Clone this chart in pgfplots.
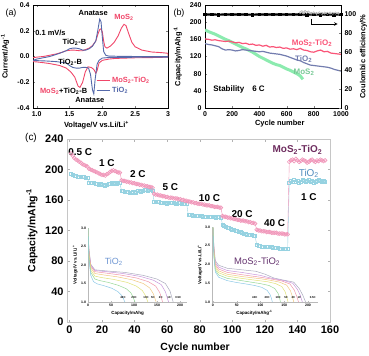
\documentclass[border=0pt]{standalone}
\usepackage{pgfplots}
\pgfplotsset{compat=1.18}
\usepackage{fontspec}
\setmainfont{Liberation Sans}
\definecolor{cvred}{RGB}{240,70,105}
\definecolor{cvblue}{RGB}{85,105,170}
\definecolor{bpink}{RGB}{250,85,120}
\definecolor{bblue}{RGB}{115,125,175}
\definecolor{bgreen}{RGB}{140,235,175}
\definecolor{cpink}{RGB}{240,150,185}
\definecolor{ccyan}{RGB}{150,210,225}
\definecolor{cpurple}{RGB}{110,45,95}
\definecolor{ctio}{RGB}{80,140,190}
\definecolor{iblue}{RGB}{110,150,210}
\definecolor{ipurple}{RGB}{100,50,110}
\definecolor{q1}{RGB}{170,170,190}
\definecolor{q2}{RGB}{200,150,220}
\definecolor{q3}{RGB}{240,150,170}
\definecolor{q4}{RGB}{240,200,130}
\definecolor{q5}{RGB}{225,225,120}
\definecolor{q6}{RGB}{150,215,150}
\definecolor{q7}{RGB}{140,200,230}
\newcommand{\sub}[1]{\textsubscript{#1}}
\pgfplotsset{
  inset/.style={
    scale only axis, ymin=1, ymax=3,
    axis x line*=bottom, axis y line*=left,
    axis line style={gray!55}, tick style={gray!55},
    ytick={1.0,1.5,2.0,2.5,3.0}, yticklabels={1.0,1.5,2.0,2.5,3.0},
    xtick={0,50,100,150,200},
    /pgf/number format/assume math mode=true,
    tick label style={font=\fontsize{3.5}{4}\selectfont\bfseries},
    major tick length=1.2bp,
    xticklabel style={yshift=1.5bp}, yticklabel style={xshift=1.5bp},
    label style={font=\fontsize{4.5}{5}\selectfont\bfseries},
    every axis plot/.append style={line width=0.5pt},
  }
}
\begin{document}
\begin{tikzpicture}
\useasboundingbox (0bp,0bp) rectangle (369bp,-356bp);

% ---------------- (a)
\begin{axis}[
  at={(33bp,-5bp)}, anchor=north west, scale only axis, width=135bp, height=103bp,
  xmin=0.944, xmax=3.0, ymin=-0.4, ymax=0.4,
  xtick={1.0,1.5,2.0,2.5,3.0}, xticklabels={1.0,1.5,2.0,2.5,3},
  ytick={-0.4,-0.2,0,0.2,0.4}, yticklabels={-0.4,-0.2,0.0,0.2,0.4},
  tick label style={font=\fontsize{7}{8}\selectfont\bfseries},
  label style={font=\fontsize{7.5}{9}\selectfont\bfseries},
  xlabel={Voltage/V vs.Li/Li\textsuperscript{+}},
  ylabel={Current/Ag\textsuperscript{-1}},
  xlabel style={at={(axis description cs:0.47,-0.165)}, anchor=center},
  ylabel style={at={(axis description cs:-0.207,0.5)}, anchor=center},
  major tick length=2bp,
  legend style={draw=none, fill=none, at={(axis description cs:0.46,0.33)}, anchor=north west,
    font=\fontsize{7.5}{8}\selectfont\bfseries, row sep=-1.5bp, inner sep=1bp},
  legend cell align=left,
  legend image code/.code={\draw[#1] (0bp,0bp)--(13bp,0bp);},
]
\addplot[cvred, line width=0.9pt] coordinates {
(0.944,-0.01)(1.0,-0.005)(1.1,0.0)(1.2,0.01)(1.3,0.02)(1.4,0.035)(1.45,0.045)(1.5,0.048)(1.55,0.05)(1.6,0.048)(1.65,0.045)(1.7,0.045)(1.75,0.055)(1.8,0.065)(1.85,0.085)(1.9,0.12)(1.93,0.17)(1.96,0.21)(1.98,0.215)(2.0,0.19)(2.02,0.12)(2.04,0.075)(2.07,0.065)(2.12,0.08)(2.18,0.11)(2.24,0.16)(2.29,0.22)(2.33,0.25)(2.36,0.24)(2.4,0.18)(2.45,0.11)(2.5,0.075)(2.6,0.05)(2.75,0.035)(2.9,0.03)(3.0,0.025)
(3.0,-0.005)(2.8,-0.008)(2.5,-0.01)(2.2,-0.015)(2.1,-0.02)(2.0,-0.03)(1.95,-0.05)(1.92,-0.11)(1.9,-0.13)(1.87,-0.1)(1.83,-0.085)(1.78,-0.08)(1.74,-0.12)(1.7,-0.2)(1.66,-0.24)(1.63,-0.23)(1.58,-0.16)(1.52,-0.12)(1.45,-0.09)(1.35,-0.07)(1.2,-0.055)(1.1,-0.048)(1.0,-0.042)(0.944,-0.04)};
\addlegendentry{\textcolor{cvred}{MoS\sub{2}-TiO\sub{2}}}
\addplot[cvblue, line width=0.9pt] coordinates {
(0.944,-0.03)(1.0,-0.02)(1.2,0.0)(1.35,0.025)(1.45,0.045)(1.5,0.06)(1.55,0.065)(1.6,0.065)(1.65,0.06)(1.7,0.05)(1.75,0.05)(1.8,0.06)(1.85,0.08)(1.9,0.12)(1.93,0.2)(1.96,0.29)(1.98,0.27)(2.0,0.15)(2.02,0.04)(2.05,0.01)(2.1,0.003)(2.5,0.0)(3.0,0.0)
(3.0,-0.005)(2.5,-0.006)(2.1,-0.008)(2.0,-0.012)(1.95,-0.03)(1.92,-0.06)(1.89,-0.18)(1.87,-0.29)(1.85,-0.26)(1.82,-0.14)(1.79,-0.09)(1.75,-0.085)(1.7,-0.085)(1.65,-0.09)(1.6,-0.09)(1.55,-0.085)(1.5,-0.07)(1.45,-0.05)(1.3,-0.04)(1.15,-0.035)(1.0,-0.032)(0.944,-0.03)};
\addlegendentry{\textcolor{cvblue}{TiO\sub{2}}}
\begin{scope}[font=\fontsize{7.5}{8}\selectfont\bfseries]
\node at (axis cs:1.86,0.335) {Anatase};
\node[text=cvred] at (axis cs:2.33,0.305) {MoS\sub{2}};
\node at (axis cs:1.21,0.185) {0.1 mV/s};
\node at (axis cs:1.575,0.11) {TiO\sub{2}-B};
\node at (axis cs:1.51,-0.047) {TiO\sub{2}-B};
\node at (axis cs:1.41,-0.27) {\textcolor{cvred}{MoS\sub{2}}+TiO\sub{2}-B};
\node at (axis cs:1.81,-0.336) {Anatase};
\end{scope}
\end{axis}
\node[font=\fontsize{9}{10}\selectfont] at (11bp,-13bp) {(a)};
\node[font=\fontsize{9}{10}\selectfont] at (179bp,-13bp) {(b)};

% ---------------- (b) left
\begin{axis}[
  at={(205bp,-5bp)}, anchor=north west, scale only axis, width=136bp, height=103bp,
  xmin=0, xmax=1000, ymin=0, ymax=240,
  xtick={0,200,...,1000}, ytick={0,40,...,240}, ytick pos=left,
  /pgf/number format/assume math mode=true, /pgf/number format/1000 sep={},
  tick label style={font=\fontsize{7}{8}\selectfont\bfseries},
  label style={font=\fontsize{7.5}{9}\selectfont\bfseries},
  xlabel={Cycle number}, ylabel={Capacity/mAhg\textsuperscript{-1}},
  xlabel style={at={(axis description cs:0.55,-0.15)}, anchor=center},
  ylabel style={at={(axis description cs:-0.2,0.5)}, anchor=center},
  major tick length=2bp,
]
\addplot[bgreen, line width=3pt] coordinates {
(0,182)(25,178)(50,175)(75,172)(100,168)(125,164)(150,160)(175,157)(200,153)(225,149)(250,145)(275,141)(300,138)(325,134)(350,130)(375,125)(400,120)(425,116)(450,112)(475,108)(500,104)(525,101)(550,99)(575,95)(600,91)(625,88)(650,84)(675,80)(700,75)(720,67)};
\addplot[bpink, line width=1.2pt] coordinates {
(0,161)(25,160)(50,158)(75,159)(100,157)(125,156)(150,155)(175,156)(200,154)(225,152)(250,153)(275,150)(300,151)(325,148)(350,149)(375,146)(400,147)(425,144)(450,146)(475,142)(500,143)(525,141)(550,142)(575,139)(600,140)(625,137)(650,138)(675,136)(700,139)(725,135)(750,134)(775,131)(800,130)(825,133)(850,135)(875,131)(900,132)(925,128)(950,127)(975,126)(1000,125)};
\addplot[bblue, line width=1.2pt] coordinates {
(0,150)(25,148)(50,147)(75,145)(100,143)(125,138)(150,135)(175,136)(200,135)(225,133)(250,134)(275,136)(300,135)(325,134)(350,133)(375,132)(400,131)(425,132)(450,130)(475,128)(500,127)(525,126)(550,125)(575,123)(600,121)(625,118)(650,115)(675,112)(700,110)(725,106)(750,103)(775,100)(800,99)(825,98)(850,97)(875,96)(900,95)(925,93)(950,90)(975,88)(1000,86)};
\begin{scope}[font=\fontsize{8}{9}\selectfont\bfseries]
\node[text=bpink] at (axis cs:787,151) {MoS\sub{2}-TiO\sub{2}};
\node[text=bblue] at (axis cs:725,114) {TiO\sub{2}};
\node[text=bgreen!85!black] at (axis cs:728,84) {MoS\sub{2}};
\node at (axis cs:250,44) {Stability\quad 6 C};
\end{scope}
\end{axis}
% ---------------- (b) right
\begin{axis}[
  at={(205bp,-5bp)}, anchor=north west, scale only axis, width=136bp, height=103bp,
  xmin=0, xmax=1000, ymin=0, ymax=109.7,
  axis y line*=right, axis x line=none, ytick={0,20,...,100},
  /pgf/number format/assume math mode=true,
  tick label style={font=\fontsize{7}{8}\selectfont\bfseries},
  label style={font=\fontsize{7.5}{9}\selectfont\bfseries},
  ylabel={Coulombic efficiency/\%},
  ylabel style={at={(axis description cs:1.165,0.5)}, anchor=center},
  major tick length=2bp,
]
\addplot[black, line width=2.2pt, mark=square*, mark size=0.8pt] coordinates {
(0,99.5)(50,99.6)(100,99.4)(150,99.6)(200,99.5)(250,99.6)(300,99.5)(350,99.4)(400,99.6)(450,99.5)(500,99.6)(550,99.5)(600,99.5)(650,99.6)(700,99.5)(750,99.4)(800,99.5)(850,99.4)(900,99.5)(950,99.4)(1000,99.5)};
\addplot[only marks, gray!70, mark=o, mark size=1.2pt] coordinates {
(700,101.5)(712,102.6)(724,101.2)(736,102.9)(748,101.7)(760,102.2)(780,100.9)(800,101.3)(820,100.8)(840,101.3)(860,100.8)(880,101.1)(900,100.9)(920,101.2)(940,100.8)(960,101.1)(980,100.9)};
\draw[black, line width=0.6pt] (axis cs:780,95)--(axis cs:780,89.5);
\draw[black, line width=0.6pt, -stealth] (axis cs:780,89.5)--(axis cs:975,89.5);
\end{axis}

% ---------------- (c) insets
\begin{axis}[inset, at={(88bp,-228bp)}, anchor=north west, width=99bp, height=74bp, xmin=0, xmax=215,
  xlabel={Capacity/mAhg}, ylabel={Voltage/V vs.Li/Li\textsuperscript{+}},
  xlabel style={at={(axis description cs:0.4,-0.15)}, anchor=center},
  ylabel style={at={(axis description cs:-0.13,0.5)}, anchor=center}]
\addplot[q1] coordinates {(0,3.0)(2,2.45)(6,2.02)(15,1.87)(40,1.84)(80,1.80)(120,1.72)(150,1.62)(168,1.50)(178,1.3)(185,1.0)};
\addplot[q2] coordinates {(0,3.0)(2,2.4)(6,2.0)(15,1.85)(40,1.82)(76,1.77)(114,1.69)(142,1.59)(159,1.47)(168,1.28)(175,1.0)};
\addplot[q3] coordinates {(0,3.0)(2,2.35)(6,1.97)(15,1.82)(40,1.78)(70,1.73)(105,1.65)(131,1.55)(147,1.43)(156,1.25)(162,1.0)};
\addplot[q4] coordinates {(0,3.0)(2,2.3)(6,1.92)(15,1.77)(35,1.73)(64,1.68)(96,1.60)(120,1.50)(134,1.38)(142,1.22)(148,1.0)};
\addplot[q5] coordinates {(0,3.0)(2,2.25)(6,1.86)(15,1.70)(30,1.66)(56,1.61)(85,1.53)(105,1.43)(118,1.31)(125,1.17)(130,1.0)};
\addplot[q6] coordinates {(0,3.0)(2,2.2)(6,1.8)(15,1.62)(25,1.58)(44,1.53)(66,1.45)(83,1.36)(93,1.25)(98,1.13)(102,1.0)};
\addplot[q7] coordinates {(0,3.0)(2,2.15)(6,1.72)(12,1.55)(20,1.49)(35,1.44)(52,1.37)(65,1.28)(73,1.18)(77,1.09)(80,1.0)};
\node[text=iblue, font=\fontsize{9}{10}\selectfont] at (axis cs:56,2.08) {TiO\sub{2}};
\begin{scope}[font=\fontsize{2.8}{3}\selectfont\bfseries, inner sep=0pt]
\node at (axis cs:76,1.12) {40C};
\node at (axis cs:100,1.12) {20C};
\node at (axis cs:126,1.12) {10C};
\node at (axis cs:141,1.12) {5C};
\node at (axis cs:158,1.12) {2C};
\node at (axis cs:176,1.12) {1C};
\node at (axis cs:196,1.12) {0.5C};
\end{scope}
\end{axis}

\begin{axis}[inset, at={(212bp,-227bp)}, anchor=north west, width=106bp, height=75bp, xmin=-2, xmax=221,
  xlabel={Capacity/mAhg\textsuperscript{-1}}, ylabel={Voltage/V vs.Li/Li\textsuperscript{+}},
  xlabel style={at={(axis description cs:0.4,-0.15)}, anchor=center},
  ylabel style={at={(axis description cs:-0.113,0.5)}, anchor=center}]
\addplot[q1] coordinates {(0,3.0)(2,2.5)(5,2.1)(12,1.98)(30,1.9)(60,1.86)(90,1.82)(110,1.74)(128,1.64)(150,1.58)(170,1.53)(182,1.35)(189,1.18)(195,1.0)};
\addplot[q2] coordinates {(0,3.0)(2,2.45)(5,2.05)(12,1.93)(30,1.84)(60,1.79)(100,1.71)(124,1.63)(150,1.57)(168,1.5)(178,1.33)(184,1.17)(188,1.0)};
\addplot[q3] coordinates {(0,3.0)(2,2.4)(5,2.0)(12,1.88)(30,1.79)(60,1.73)(100,1.66)(124,1.61)(145,1.56)(162,1.48)(171,1.32)(176,1.16)(180,1.0)};
\addplot[q4] coordinates {(0,3.0)(2,2.35)(5,1.95)(12,1.83)(30,1.74)(60,1.68)(100,1.62)(120,1.58)(140,1.53)(155,1.45)(163,1.3)(167,1.15)(170,1.0)};
\addplot[q5] coordinates {(0,3.0)(2,2.3)(5,1.9)(12,1.78)(30,1.69)(60,1.63)(90,1.58)(115,1.54)(132,1.49)(145,1.41)(152,1.27)(155,1.14)(158,1.0)};
\addplot[q6] coordinates {(0,3.0)(2,2.25)(5,1.85)(12,1.72)(30,1.63)(55,1.58)(80,1.53)(100,1.49)(118,1.44)(130,1.36)(137,1.23)(140,1.12)(142,1.0)};
\addplot[q7] coordinates {(0,3.0)(2,2.2)(5,1.8)(12,1.66)(30,1.57)(50,1.52)(70,1.48)(88,1.44)(103,1.39)(114,1.31)(120,1.2)(123,1.1)(125,1.0)};
\node[text=ipurple, font=\fontsize{9.5}{10}\selectfont] at (axis cs:93,2.08) {MoS\sub{2}-TiO\sub{2}};
\begin{scope}[font=\fontsize{2.8}{3}\selectfont\bfseries, inner sep=0pt]
\node at (axis cs:88,1.12) {40C};
\node at (axis cs:114,1.12) {20C};
\node at (axis cs:137,1.12) {10C};
\node at (axis cs:154,1.12) {5C};
\node at (axis cs:169,1.12) {2C};
\node at (axis cs:182,1.12) {1C};
\node at (axis cs:210,1.12) {0.5C};
\end{scope}
\end{axis}

% ---------------- (c) main
\pgfplotstableread{
x y
1 221
2 218
3 215
4 213
5 212
6 210
7 209
8 207
9 206
10 205
11 204
12 201
13 200
14 199
15 198
16 197
17 196
18 195
19 194
20 193
21 193
22 192
23 194
24 195
25 197
26 198
27 199
28 198
29 197
30 196
31 196
32 186
33 185
34 185
35 184
36 184
37 183
38 183
39 182
40 182
41 181
42 181
43 180
44 180
45 179
46 179
47 178
48 178
49 177
50 177
51 176
52 168
53 167
54 167
55 166
56 166
57 165
58 165
59 164
60 164
61 163
62 163
63 163
64 162
65 162
66 162
67 161
68 161
69 160
70 160
71 159
72 159
73 158
74 158
75 157
76 157
77 156
78 156
79 155
80 155
81 155
82 154
83 154
84 153
85 153
86 153
87 152
88 152
89 151
90 151
91 151
92 150
93 150
94 139
95 138
96 138
97 137
98 137
99 136
100 136
101 135
102 135
103 134
104 134
105 133
106 133
107 133
108 132
109 132
110 131
111 131
112 130
113 130
114 129
115 121
116 120
117 120
118 119
119 119
120 119
121 118
122 118
123 118
124 117
125 117
126 117
127 117
128 116
129 116
130 116
131 116
132 115
133 115
134 115
135 210
136 212
137 213
138 211
139 214
140 212
141 210
142 211
143 213
144 212
145 211
146 209
147 210
148 212
149 213
150 211
151 210
152 212
153 211
154 213
155 212
156 211
157 212
}\mostable
\pgfplotstableread{
x y
1 194
2 193
3 192
4 192
5 191
6 191
7 190
8 190
9 190
10 189
11 189
12 183
13 183
14 182
15 182
16 181
17 181
18 180
19 181
20 180
21 180
22 179
23 180
24 181
25 181
26 182
27 181
28 182
29 181
30 182
31 182
32 172
33 172
34 171
35 171
36 171
37 170
38 170
39 171
40 171
41 170
42 172
43 172
44 171
45 172
46 173
47 173
48 172
49 173
50 173
51 172
52 158
53 157
54 157
55 157
56 156
57 156
58 156
59 156
60 155
61 156
62 156
63 156
64 156
65 155
66 155
67 156
68 156
69 155
70 155
71 155
72 155
73 140
74 140
75 140
76 139
77 139
78 139
79 139
80 139
81 139
82 138
83 138
84 138
85 138
86 138
87 138
88 138
89 138
90 137
91 138
92 138
93 137
94 128
95 126
96 125
97 124
98 123
99 122
100 121
101 121
102 120
103 119
104 118
105 118
106 117
107 116
108 116
109 115
110 115
111 114
112 114
113 113
114 113
115 101
116 100
117 100
118 99
119 99
120 99
121 98
122 98
123 98
124 98
125 97
126 97
127 97
128 97
129 96
130 96
131 96
132 96
133 96
134 96
135 183
136 185
137 184
138 186
139 184
140 185
141 183
142 184
143 186
144 185
145 184
146 185
147 186
148 184
149 185
150 183
151 184
152 185
153 186
154 185
155 184
156 185
157 184
}\tiotable
\begin{axis}[
  at={(67bp,-139bp)}, anchor=north west, scale only axis, width=263bp, height=183bp,
  xmin=-1.5, xmax=160, ymin=0, ymax=240,
  xtick={0,20,...,160}, ytick={0,40,...,240},
  /pgf/number format/assume math mode=true,
  axis line style={gray!45}, tick style={gray!60}, major tick length=2.5bp,
  tick label style={font=\fontsize{11}{12}\selectfont\bfseries},
  label style={font=\fontsize{10.5}{12}\selectfont\bfseries},
  xlabel={Cycle number}, ylabel={Capacity/mAhg\textsuperscript{-1}},
  xlabel style={at={(axis description cs:0.487,-0.142)}, anchor=center},
  ylabel style={at={(axis description cs:-0.133,0.5)}, anchor=center},
]
\addplot[ccyan, line width=0.4pt, mark=square, mark size=1.5pt, mark options={line width=0.6pt}] table[x=x,y=y] {\tiotable};
\addplot[cpink, line width=0.4pt, mark=o, mark size=1.9pt, mark options={line width=0.6pt}] table[x=x,y=y] {\mostable};
\begin{scope}[font=\fontsize{10}{11}\selectfont\bfseries]
\node at (axis cs:6.6,223) {0.5 C};
\node at (axis cs:23,208.5) {1 C};
\node at (axis cs:42,194) {2 C};
\node at (axis cs:62,177) {5 C};
\node at (axis cs:86,163) {10 C};
\node at (axis cs:106,142) {20 C};
\node at (axis cs:126,130) {40 C};
\node at (axis cs:147,164) {1 C};
\node[text=cpurple] at (axis cs:140,226) {MoS\sub{2}-TiO\sub{2}};
\node[text=ctio, font=\fontsize{10}{11}\selectfont] at (axis cs:147,195) {TiO\sub{2}};
\end{scope}
\end{axis}
\node[font=\fontsize{10}{11}\selectfont] at (31bp,-138bp) {(c)};
\end{tikzpicture}
\end{document}
